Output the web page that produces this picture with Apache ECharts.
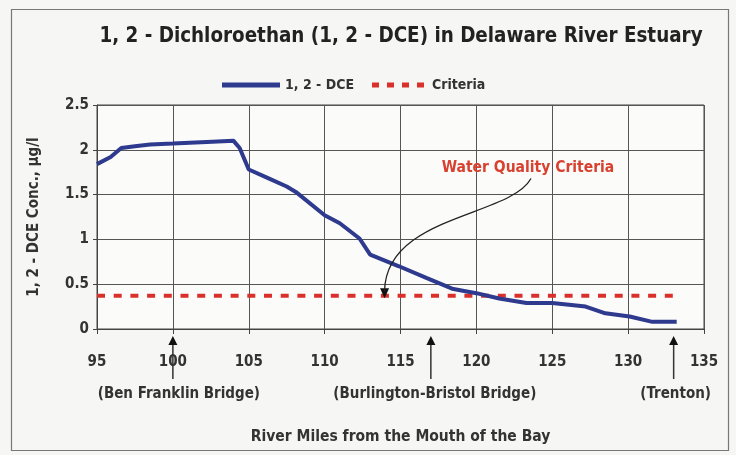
<!DOCTYPE html>
<html><head><meta charset="utf-8">
<script src="https://cdn.jsdelivr.net/npm/echarts@6/dist/echarts.min.js"></script>
<style>html,body{margin:0;padding:0;background:#f6f6f4}#c{width:736px;height:455px}</style>
</head><body><div id="c"></div>
<script>
const FONT = '"Liberation Sans Narrow","DejaVu Sans Condensed","Roboto Condensed",sans-serif';
const titleText = '1, 2 - Dichloroethan (1, 2 - DCE) in Delaware River Estuary';
const xAxisName = 'River Miles from the Mouth of the Bay';
const yAxisName = '1, 2 - DCE Conc., \u00b5g/l';
const seriesNames = ['1, 2 - DCE', 'Criteria'];
const dceMiles  = [95, 95.9, 96.6, 97.5, 98.5, 100, 102.6, 104, 104.4, 105, 106.2, 107.5, 108.1, 110, 111, 112.3, 113, 114.9, 116.7, 118.4, 120, 121.5, 123.3, 125, 127.2, 128.5, 130.1, 131.6, 133.2];
const dceValues = [1.84, 1.92, 2.02, 2.04, 2.06, 2.07, 2.09, 2.10, 2.02, 1.78, 1.69, 1.59, 1.53, 1.27, 1.18, 1.01, 0.83, 0.70, 0.57, 0.45, 0.40, 0.34, 0.29, 0.29, 0.25, 0.175, 0.14, 0.08, 0.08];
const criteriaMiles = [95, 133.2];
const criteriaValues = [0.37, 0.37];
const bridgeNames = ['(Ben Franklin Bridge)', '(Burlington-Bristol Bridge)', '(Trenton)'];
const bridgeMiles = [100, 117, 133];
const annotationText = 'Water Quality Criteria';
const annotationAt = [123.4, 1.8];
// S-curve arrow from annotation to criteria line (data coords): start, cp1, cp2, end
const arrowCurve = [[123.6, 1.68], [122.2, 1.25], [114.0, 1.27], [113.95, 0.42]];

const chart = echarts.init(document.getElementById('c'));
const txt = '#333';
const BLUE = '#2e3a8e', RED = '#d9302c';
chart.setOption({
  backgroundColor: '#f6f6f4',
  animation: false,
  title: {text: titleText, left: 396, top: 22, textAlign: 'center',
    textStyle: {fontFamily: FONT, fontSize: 20.4, fontWeight: 'bold', color: '#222'}},
  legend: {left: 217, top: 73, itemWidth: 58, itemHeight: 5, itemGap: 18,
    textStyle: {fontFamily: FONT, fontSize: 14, fontWeight: 'bold', color: txt},
    data: [
      {name: seriesNames[0], icon: 'path://M0,0h58v5h-58z', itemStyle: {color: BLUE}},
      {name: seriesNames[1], icon: 'path://M0,0h7v5h-7z M15,0h7v5h-7z M30,0h7v5h-7z M45,0h7v5h-7z', itemStyle: {color: RED}}
    ]},
  grid: {left: 97, right: 32, top: 105, bottom: 126, show: true, backgroundColor: '#fbfbfa', borderColor: '#444', borderWidth: 1},
  xAxis: {type: 'value', min: 95, max: 135, interval: 5,
    name: xAxisName, nameLocation: 'middle', nameGap: 100,
    nameTextStyle: {fontFamily: FONT, fontSize: 15.5, fontWeight: 'bold', color: txt},
    axisLine: {lineStyle: {color: '#444'}},
    axisTick: {show: true, length: 5, lineStyle: {color: '#444'}},
    axisLabel: {fontFamily: FONT, fontSize: 15, fontWeight: 'bold', color: txt, margin: 26},
    splitLine: {lineStyle: {color: '#555', width: 1}}},
  yAxis: {type: 'value', min: 0, max: 2.5, interval: 0.5,
    name: yAxisName, nameLocation: 'middle', nameGap: 55, nameRotate: 90,
    nameTextStyle: {fontFamily: FONT, fontSize: 15, fontWeight: 'bold', color: txt},
    axisLine: {show: true, lineStyle: {color: '#444'}},
    axisTick: {show: true, length: 4, lineStyle: {color: '#444'}},
    axisLabel: {fontFamily: FONT, fontSize: 15, fontWeight: 'bold', color: txt, margin: 8},
    splitLine: {lineStyle: {color: '#555', width: 1}}},
  series: [
    {name: seriesNames[0], type: 'line', symbol: 'none', data: dceMiles.map((m, i) => [m, dceValues[i]]),
      lineStyle: {color: BLUE, width: 4}, itemStyle: {color: BLUE}, z: 3,
      markPoint: {silent: true, symbol: 'triangle', symbolSize: [9, 10], symbolRotate: 180,
        itemStyle: {color: '#111'}, label: {show: false},
        data: [{coord: [arrowCurve[3][0], arrowCurve[3][1] - 0.02]}]}},
    {name: seriesNames[1], type: 'line', symbol: 'none', data: criteriaMiles.map((m, i) => [m, criteriaValues[i]]),
      lineStyle: {color: RED, width: 4, type: [8, 8.7]}, itemStyle: {color: RED}, z: 2}
  ]
});

function drawExtras() {
  const els = [];
  els.push({type: 'rect', shape: {x: 11.5, y: 9.5, width: 717, height: 441}, style: {fill: null, stroke: '#777', lineWidth: 1.2}, silent: true, z: -1});
  const yAxisPix = chart.convertToPixel({gridIndex: 0}, [95, 0])[1];
  bridgeMiles.forEach((m, i) => {
    const x = chart.convertToPixel({gridIndex: 0}, [m, 0])[0];
    els.push({type: 'line', shape: {x1: x, y1: yAxisPix + 14, x2: x, y2: yAxisPix + 50}, style: {stroke: '#333', lineWidth: 1.5}, z: 10});
    els.push({type: 'polygon', shape: {points: [[x, yAxisPix + 7], [x - 4.5, yAxisPix + 16], [x + 4.5, yAxisPix + 16]]}, style: {fill: '#111'}, z: 10});
    const off = [6, 4, 2][i];
    els.push({type: 'text', x: x + off, y: yAxisPix + 65, style: {text: bridgeNames[i], fontFamily: FONT, fontSize: 15, fontWeight: 'bold', fill: txt, align: 'center', verticalAlign: 'middle'}, z: 10});
  });
  const a = chart.convertToPixel({gridIndex: 0}, annotationAt);
  els.push({type: 'text', x: a[0], y: a[1], style: {text: annotationText, fontFamily: FONT, fontSize: 15.5, fontWeight: 'bold', fill: '#d8412f', align: 'center', verticalAlign: 'middle'}, z: 10});
  const p = arrowCurve.map(c => chart.convertToPixel({gridIndex: 0}, c));
  els.push({type: 'bezierCurve', shape: {x1: p[0][0], y1: p[0][1], cpx1: p[1][0], cpy1: p[1][1], cpx2: p[2][0], cpy2: p[2][1], x2: p[3][0], y2: p[3][1]}, style: {stroke: '#222', lineWidth: 1.3, fill: null}, z: 10});
  chart.setOption({graphic: {elements: els}});
}
drawExtras();
</script></body></html>
